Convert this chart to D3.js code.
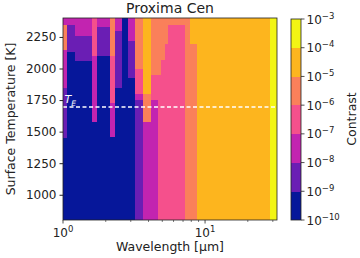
<!DOCTYPE html>
<html>
<head>
<meta charset="utf-8">
<script src="https://cdn.jsdelivr.net/npm/d3@7"></script>
<style>
  body { margin: 0; background: #fff; }
  svg text { font-family: "DejaVu Sans", sans-serif; fill: #222; }
</style>
</head>
<body>
<div id="dis"></div>
<script>
// wavelength bin edges [um]
var wlEdges = [1.00, 1.07, 1.21, 1.60, 1.74, 2.14, 2.32, 2.60, 2.87, 3.21, 3.66,
               4.16, 4.67, 4.90, 5.23, 5.48, 7.23, 7.84, 8.78, 28.6, 32.1];

// per column: [temperature from (K), contrast band]
var colBands = [
    [[800, 0], [1450, 1], [1850, 2], [2150, 4], [2350, 2]],
    [[800, 0], [2130, 1], [2350, 2]],
    [[800, 0], [2060, 1], [2260, 2]],
    [[800, 0], [1580, 2], [2100, 3]],
    [[800, 0], [2100, 1], [2330, 2]],
    [[800, 0], [1460, 2], [1730, 3], [2100, 4]],
    [[800, 0], [1850, 1], [2300, 2]],
    [[800, 0]],
    [[800, 0], [1930, 1], [2220, 2]],
    [[800, 1], [1750, 2], [1800, 3], [2000, 4]],
    [[800, 2], [1580, 4], [1800, 5]],
    [[800, 2], [1750, 3], [1950, 4]],
    [[800, 3], [1950, 4]],
    [[800, 3], [2070, 4]],
    [[800, 3], [2200, 4]],
    [[800, 3], [2350, 4]],
    [[800, 4]],
    [[800, 4], [2200, 5]],
    [[800, 5]],
    [[800, 6]]
];

var bandColors = ["#06179a", "#6a1eb4", "#c224b0", "#f5508c", "#fa805a", "#fdb51e", "#f2f514"];
var contrastExps = [-10, -9, -8, -7, -6, -5, -4, -3];
var tempTicks = [1000, 1250, 1500, 1750, 2000, 2250];
var wlTicks = [1, 10];
var tempRange = [800, 2400];
var tEq = 1695;

var chart = function() {
    var width = 360, height = 258;
    var L = 63, R = 277, T = 18, B = 220;

    var svg = d3.select("#dis").append("svg")
        .attr("width", width)
        .attr("height", height);

    var x = d3.scaleLog().domain([wlEdges[0], wlEdges[wlEdges.length - 1]]).range([L, R]);
    var y = d3.scaleLinear().domain(tempRange).range([B, T]);

    // cells
    var cells = [];
    colBands.forEach(function(segs, i) {
        segs.forEach(function(s, j) {
            var top = j < segs.length - 1 ? segs[j + 1][0] : tempRange[1];
            cells.push({x0: wlEdges[i], x1: wlEdges[i + 1], t0: s[0], t1: top, b: s[1]});
        });
    });

    svg.append("g")
        .selectAll("rect")
        .data(cells)
        .join("rect")
        .attr("x", d => x(d.x0))
        .attr("width", d => x(d.x1) - x(d.x0) + 0.4)
        .attr("y", d => y(d.t1))
        .attr("height", d => y(d.t0) - y(d.t1) + 0.4)
        .attr("fill", d => bandColors[d.b])
        .attr("shape-rendering", "crispEdges");

    // equilibrium temperature line
    svg.append("line")
        .attr("x1", L).attr("x2", R)
        .attr("y1", y(tEq)).attr("y2", y(tEq))
        .attr("stroke", "#fff")
        .attr("stroke-width", 1.5)
        .attr("stroke-dasharray", "4,2.5");

    var te = svg.append("text")
        .attr("x", L + 1.5)
        .attr("y", y(tEq) - 4)
        .attr("font-size", 11)
        .style("fill", "#fff");
    te.append("tspan").attr("font-style", "italic").text("T");
    te.append("tspan").attr("font-style", "italic").attr("font-size", 7.5).attr("dy", 2.5).text("E");

    // frame
    svg.append("rect")
        .attr("x", L).attr("y", T)
        .attr("width", R - L).attr("height", B - T)
        .attr("fill", "none")
        .attr("stroke", "#222")
        .attr("stroke-width", 0.8);

    // y axis
    var yAxis = svg.append("g")
        .attr("transform", "translate(" + L + ",0)")
        .call(d3.axisLeft(y).tickValues(tempTicks).tickFormat(d3.format("d")).tickSize(3.5).tickPadding(3));
    yAxis.select(".domain").remove();
    yAxis.selectAll("text").attr("font-size", 12).style("fill", "#222");
    yAxis.selectAll("line").attr("stroke", "#222");

    // x axis: major + minor ticks
    var minor = [];
    [1, 10].forEach(function(dec) {
        for (var k = 2; k <= 9; k++) {
            if (dec * k < x.domain()[1]) minor.push(dec * k);
        }
    });
    var xg = svg.append("g").attr("transform", "translate(0," + B + ")");
    xg.selectAll("line.minor")
        .data(minor)
        .join("line")
        .attr("x1", d => x(d)).attr("x2", d => x(d))
        .attr("y1", 0).attr("y2", 2)
        .attr("stroke", "#222").attr("stroke-width", 0.6);
    xg.selectAll("line.major")
        .data(wlTicks)
        .join("line")
        .attr("x1", d => x(d)).attr("x2", d => x(d))
        .attr("y1", 0).attr("y2", 3.5)
        .attr("stroke", "#222").attr("stroke-width", 0.8);
    var xl = xg.selectAll("text")
        .data(wlTicks)
        .join("text")
        .attr("x", d => x(d))
        .attr("y", 17)
        .attr("text-anchor", "middle")
        .attr("font-size", 12);
    xl.append("tspan").text("10");
    xl.append("tspan").attr("font-size", 8.5).attr("dy", -5).text(d => Math.round(Math.log10(d)));

    svg.append("text")
        .attr("x", (L + R) / 2)
        .attr("y", 251)
        .attr("text-anchor", "middle")
        .attr("font-size", 12.5)
        .text("Wavelength [μm]");

    svg.append("text")
        .attr("transform", "translate(15," + ((T + B) / 2) + ") rotate(-90)")
        .attr("text-anchor", "middle")
        .attr("font-size", 12.5)
        .text("Surface Temperature [K]");

    svg.append("text")
        .attr("x", (L + R) / 2)
        .attr("y", 13)
        .attr("text-anchor", "middle")
        .attr("font-size", 14)
        .text("Proxima Cen");

    // colorbar
    var cx = 291, cw = 10;
    var cy = d3.scaleLinear().domain([contrastExps[0], contrastExps[contrastExps.length - 1]]).range([B, T + 1]);
    svg.append("g")
        .selectAll("rect")
        .data(bandColors)
        .join("rect")
        .attr("x", cx)
        .attr("width", cw)
        .attr("y", (d, i) => cy(contrastExps[i + 1]))
        .attr("height", (d, i) => cy(contrastExps[i]) - cy(contrastExps[i + 1]) + 0.3)
        .attr("fill", d => d)
        .attr("shape-rendering", "crispEdges");
    svg.append("rect")
        .attr("x", cx).attr("y", cy.range()[1])
        .attr("width", cw).attr("height", cy.range()[0] - cy.range()[1])
        .attr("fill", "none")
        .attr("stroke", "#222")
        .attr("stroke-width", 0.8);
    var cg = svg.append("g");
    cg.selectAll("line")
        .data(contrastExps)
        .join("line")
        .attr("x1", cx + cw).attr("x2", cx + cw + 3.5)
        .attr("y1", d => cy(d)).attr("y2", d => cy(d))
        .attr("stroke", "#222").attr("stroke-width", 0.8);
    var cl = cg.selectAll("text")
        .data(contrastExps)
        .join("text")
        .attr("x", cx + cw + 5.5)
        .attr("y", d => cy(d) + 4.5)
        .attr("font-size", 12);
    cl.append("tspan").text("10");
    cl.append("tspan").attr("font-size", 8.5).attr("dy", -5).text(d => "\u2212" + Math.abs(d));

    svg.append("text")
        .attr("transform", "translate(356," + ((T + B) / 2) + ") rotate(-90)")
        .attr("text-anchor", "middle")
        .attr("font-size", 12.5)
        .text("Contrast");
};

window.onload = function() {
    chart();
};
</script>
</body>
</html>
